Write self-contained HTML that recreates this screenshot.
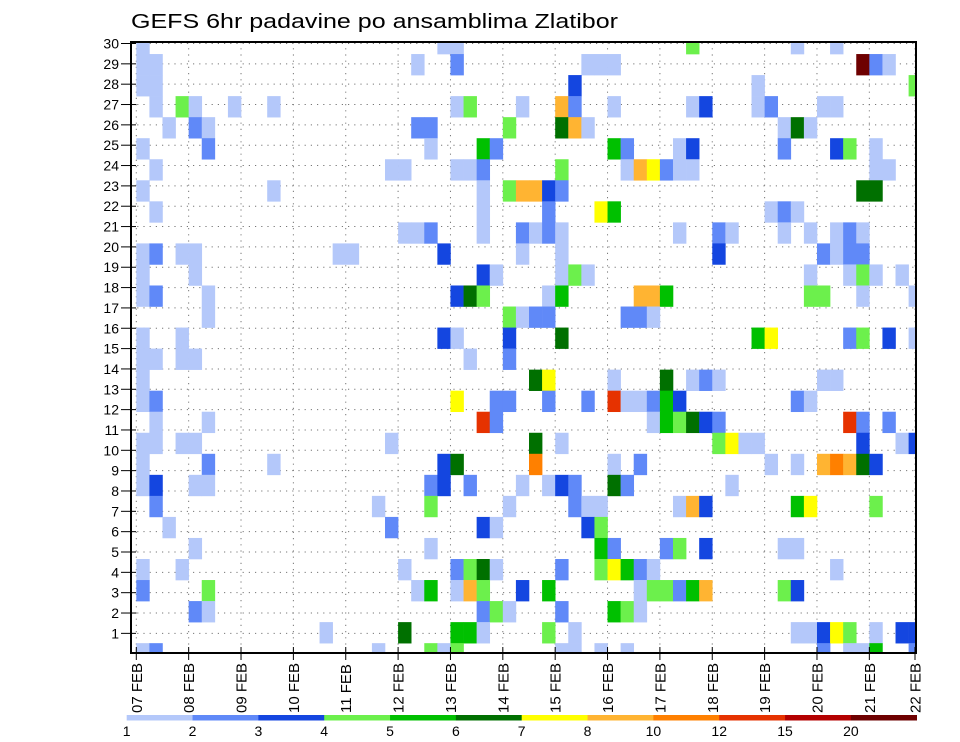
<!DOCTYPE html>
<html><head><meta charset="utf-8"><style>
html,body{margin:0;padding:0;background:#fff;}
svg{display:block;font-family:"Liberation Sans",sans-serif;}
</style></head><body>
<svg id="chart" width="960" height="742" viewBox="0 0 960 742" xmlns="http://www.w3.org/2000/svg">
<defs><clipPath id="plotclip"><rect x="131" y="42" width="785" height="611"/></clipPath></defs>
<text x="131" y="28" font-size="20" textLength="487" lengthAdjust="spacingAndGlyphs">GEFS 6hr padavine po ansamblima Zlatibor</text>
<g id="grid"></g>
<g id="cells" clip-path="url(#plotclip)"></g>
<rect x="131" y="42" width="785" height="611" fill="none" stroke="#000" stroke-width="2"/>
<g id="axes"></g>
<g id="legend"></g>
</svg>
<script>
// ---- data ----
const dayLabels = ["07 FEB","08 FEB","09 FEB","10 FEB","11 FEB","12 FEB","13 FEB","14 FEB","15 FEB","16 FEB","17 FEB","18 FEB","19 FEB","20 FEB","21 FEB","22 FEB"];
const memberLabels = [1,2,3,4,5,6,7,8,9,10,11,12,13,14,15,16,17,18,19,20,21,22,23,24,25,26,27,28,29,30];
const levels = [1,2,3,4,5,6,7,8,10,12,15,20];
const levelLabels = ["1","2","3","4","5","6","7","8","10","12","15","20"];
const levelColors = ["#b4c8fa","#6089f8","#1446e0","#6cf04c","#00c000","#007000","#ffff00","#ffb432","#ff8000","#e63200","#b40000","#6e0000"];
// precipitation (mm / 6h), one string per plotted row (top to bottom), "timestep:value"
const precipRows = [
"0:1.5 23:1.5 24:1.5 42:4.5 50:1.5 53:1.5",
"0:1.5 1:1.5 21:1.5 24:2.5 34:1.5 35:1.5 36:1.5 55:22 56:2.5 57:1.5",
"0:1.5 1:1.5 33:3.5 47:1.5 59:4.5",
"1:1.5 3:4.5 4:1.5 7:1.5 10:1.5 24:1.5 25:4.5 29:1.5 32:9 33:2.5 36:1.5 42:1.5 43:3.5 47:1.5 48:2.5 52:1.5 53:1.5",
"2:1.5 4:2.5 5:1.5 21:2.5 22:2.5 28:4.5 32:6.5 33:9 34:1.5 49:1.5 50:6.5 51:1.5",
"0:1.5 5:2.5 22:1.5 26:5.5 27:2.5 36:5.5 37:2.5 41:1.5 42:3.5 49:2.5 53:3.5 54:4.5 56:1.5",
"1:1.5 19:1.5 20:1.5 24:1.5 25:1.5 26:2.5 32:4.5 37:1.5 38:9 39:7.5 40:2.5 41:1.5 42:1.5 56:1.5 57:1.5",
"0:1.5 10:1.5 26:1.5 28:4.5 29:9 30:9 31:3.5 32:2.5 55:6.5 56:6.5",
"1:1.5 26:1.5 31:2.5 35:7.5 36:5.5 48:1.5 49:2.5 50:1.5",
"20:1.5 21:1.5 22:2.5 26:1.5 29:2.5 30:1.5 31:2.5 32:1.5 41:1.5 44:2.5 45:1.5 49:1.5 51:1.5 53:1.5 54:2.5 55:1.5",
"0:1.5 1:2.5 3:1.5 4:1.5 15:1.5 16:1.5 23:3.5 29:1.5 32:1.5 44:3.5 52:2.5 53:1.5 54:2.5 55:2.5",
"0:1.5 4:1.5 26:3.5 27:1.5 32:1.5 33:4.5 34:1.5 51:1.5 54:1.5 55:4.5 56:1.5 58:1.5",
"0:1.5 1:2.5 5:1.5 24:3.5 25:6.5 26:4.5 31:1.5 32:5.5 38:9 39:9 40:5.5 51:4.5 52:4.5 55:1.5 59:1.5",
"5:1.5 28:4.5 29:1.5 30:2.5 31:2.5 37:2.5 38:2.5 39:1.5",
"0:1.5 3:1.5 23:3.5 24:1.5 28:3.5 32:6.5 47:5.5 48:7.5 54:2.5 55:4.5 57:3.5 59:1.5",
"0:1.5 1:1.5 3:1.5 4:1.5 25:1.5 28:2.5",
"0:1.5 30:6.5 31:7.5 36:1.5 40:6.5 42:1.5 43:2.5 44:1.5 52:1.5 53:1.5",
"0:1.5 1:2.5 24:7.5 27:2.5 28:2.5 31:2.5 34:2.5 36:13 37:1.5 38:1.5 39:2.5 40:5.5 41:3.5 50:2.5 51:1.5",
"1:1.5 5:1.5 26:13 27:2.5 39:1.5 40:5.5 41:4.5 42:6.5 43:3.5 44:2.5 54:13 55:2.5 57:2.5",
"0:1.5 1:1.5 3:1.5 4:1.5 19:1.5 30:6.5 32:1.5 44:4.5 45:7.5 46:1.5 47:1.5 55:3.5 58:1.5 59:3.5",
"0:1.5 5:2.5 10:1.5 23:3.5 24:6.5 30:11 36:1.5 38:2.5 48:1.5 50:1.5 52:9 53:11 54:9 55:6.5 56:3.5",
"0:1.5 1:3.5 4:1.5 5:1.5 22:2.5 23:3.5 25:2.5 29:1.5 31:1.5 32:3.5 33:2.5 36:6.5 37:2.5 45:1.5",
"1:2.5 18:1.5 22:4.5 28:1.5 33:2.5 34:1.5 35:1.5 41:1.5 42:9 43:3.5 50:5.5 51:7.5 56:4.5",
"2:1.5 19:2.5 26:3.5 27:1.5 34:3.5 35:4.5",
"4:1.5 22:1.5 35:5.5 36:2.5 40:2.5 41:4.5 43:3.5 49:1.5 50:1.5",
"0:1.5 3:1.5 20:1.5 24:2.5 25:4.5 26:6.5 27:1.5 32:2.5 35:4.5 36:7.5 37:5.5 38:2.5 39:1.5 53:1.5",
"0:2.5 5:4.5 21:1.5 22:5.5 24:1.5 25:9 26:4.5 29:3.5 31:5.5 38:1.5 39:4.5 40:4.5 41:2.5 42:5.5 43:9 49:4.5 50:3.5",
"4:2.5 5:1.5 26:2.5 27:4.5 28:1.5 32:2.5 36:5.5 37:4.5 38:1.5",
"14:1.5 20:6.5 24:5.5 25:5.5 26:1.5 31:4.5 33:1.5 50:1.5 51:1.5 52:3.5 53:7.5 54:4.5 56:1.5 58:3.5 59:3.5",
"0:1.5 1:2.5 18:1.5 22:4.5 23:1.5 24:4.5 32:1.5 33:1.5 35:1.5 37:1.5 52:2.5 54:1.5 55:1.5 56:5.5 59:2.5"
];

// ---- scales ----
const NS = "http://www.w3.org/2000/svg";
const X0 = 136.3, COLW = 13.09, DAYW = COLW * 4;
const Y0 = 33, ROWH = 21.04;
const xCol = i => X0 + COLW * i;
const yRow = j => Y0 + ROWH * j;
const xDay = d => Math.min(X0 + DAYW * d, 915);
const yLabel = m => 43.5 + (30 - m) * 20.34;
function colorFor(v){
  let k = -1;
  for (let i = 0; i < levels.length; i++) if (v >= levels[i]) k = i;
  return k < 0 ? null : levelColors[k];
}
function mk(tag, attrs, parent){
  const e = document.createElementNS(NS, tag);
  for (const k in attrs) e.setAttribute(k, attrs[k]);
  parent.appendChild(e);
  return e;
}

// ---- grid ----
const grid = document.getElementById("grid");
memberLabels.forEach(m => {
  const l = mk("line", {x1:131, x2:916, y1:yLabel(m), y2:yLabel(m), stroke:"#777", "stroke-width":1, "stroke-dasharray":"1.2,5"}, grid);
  
  
});
dayLabels.forEach((d, i) => {
  const l = mk("line", {x1:xDay(i), x2:xDay(i), y1:42, y2:653, stroke:"#777", "stroke-width":1, "stroke-dasharray":"1.2,5"}, grid);
  
  
});

// ---- cells ----
const cellsG = document.getElementById("cells");
precipRows.forEach((row, j) => {
  row.trim().split(/\s+/).forEach(tok => {
    if (!tok) return;
    const [c, v] = tok.split(":");
    const col = colorFor(parseFloat(v));
    if (!col) return;
    const r = mk("rect", {x:xCol(+c), y:yRow(j), width:COLW + 0.3, height:ROWH + 0.3, fill:col}, cellsG);
    
    
  });
});

// ---- axes ----
const axes = document.getElementById("axes");
memberLabels.forEach(m => {
  const y = yLabel(m);
  const t = mk("line", {x1:121, x2:136, y1:y, y2:y, stroke:"#000", "stroke-width":1}, axes);
  
  
  const tx = mk("text", {x:119, y:y + 5, "font-size":14, "text-anchor":"end"}, axes);
  tx.textContent = m;
  
  
});
dayLabels.forEach((d, i) => {
  const x = xDay(i);
  const t = mk("line", {x1:x, x2:x, y1:647, y2:660, stroke:"#000", "stroke-width":1}, axes);
  
  
  const tx = mk("text", {transform:"translate(" + (x + 5.5) + ",713) rotate(-90)", "font-size":15}, axes);
  tx.textContent = d;
  
  
});

// ---- legend ----
const legend = document.getElementById("legend");
const LX0 = 126.7, LW = (916.7 - 126.7) / levels.length;
levelColors.forEach((c, i) => {
  const r = mk("rect", {x:LX0 + LW * i, y:715, width:LW + 0.3, height:5.5, fill:c}, legend);
  
  
});
levelLabels.forEach((s, i) => {
  const t = mk("text", {x:LX0 + LW * i, y:736, "font-size":14, "text-anchor":"middle"}, legend);
  t.textContent = s;
  
  
});
</script>
</body></html>
